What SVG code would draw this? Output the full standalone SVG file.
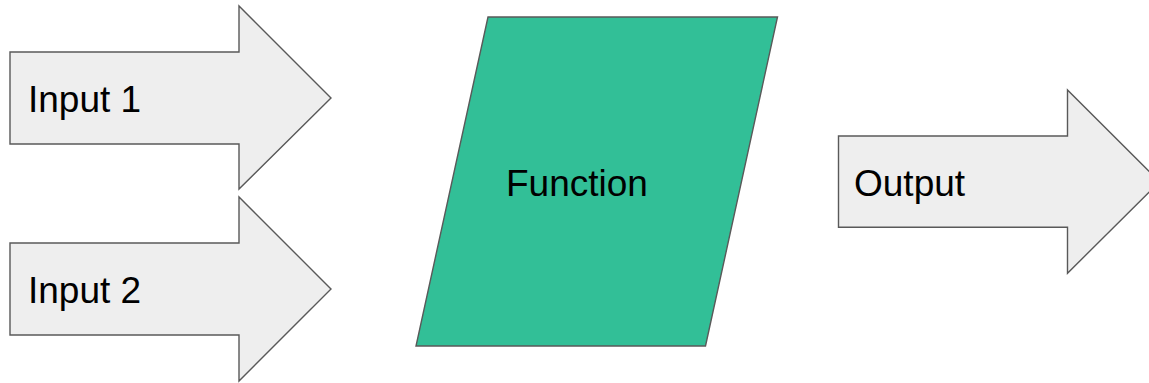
<svg xmlns="http://www.w3.org/2000/svg" width="1149" height="383" viewBox="0 0 1149 383">
<style>
.arr{fill:#eeeeee;stroke:#595959;stroke-width:1.4;stroke-linejoin:miter}
.fn{fill:#32bf97;stroke:#595959;stroke-width:1.4}
.t{font-family:"Liberation Sans",Arial,sans-serif;font-size:37px;fill:#000}
</style>
<rect width="1149" height="383" fill="#ffffff"/>
<g id="input1">
<polygon class="arr" points="10,52 239,52 239,6 331,98 239,189 239,144 10,144"/>
<text class="t" x="28" y="112">Input 1</text>
</g>
<g id="input2">
<polygon class="arr" points="10,243 239,243 239,197 331,289 239,381 239,335 10,335"/>
<text class="t" x="28" y="303">Input 2</text>
</g>
<g id="function">
<polygon class="fn" points="488,17 777.5,17 705.5,346 416,346"/>
<text class="t" x="506" y="196">Function</text>
</g>
<g id="output">
<polygon class="arr" points="838.5,136 1067.5,136 1067.5,90 1159.5,181.7 1067.5,273.3 1067.5,227.3 838.5,227.3"/>
<text class="t" x="854" y="196">Output</text>
</g>
<g id="connectors"></g>
</svg>
